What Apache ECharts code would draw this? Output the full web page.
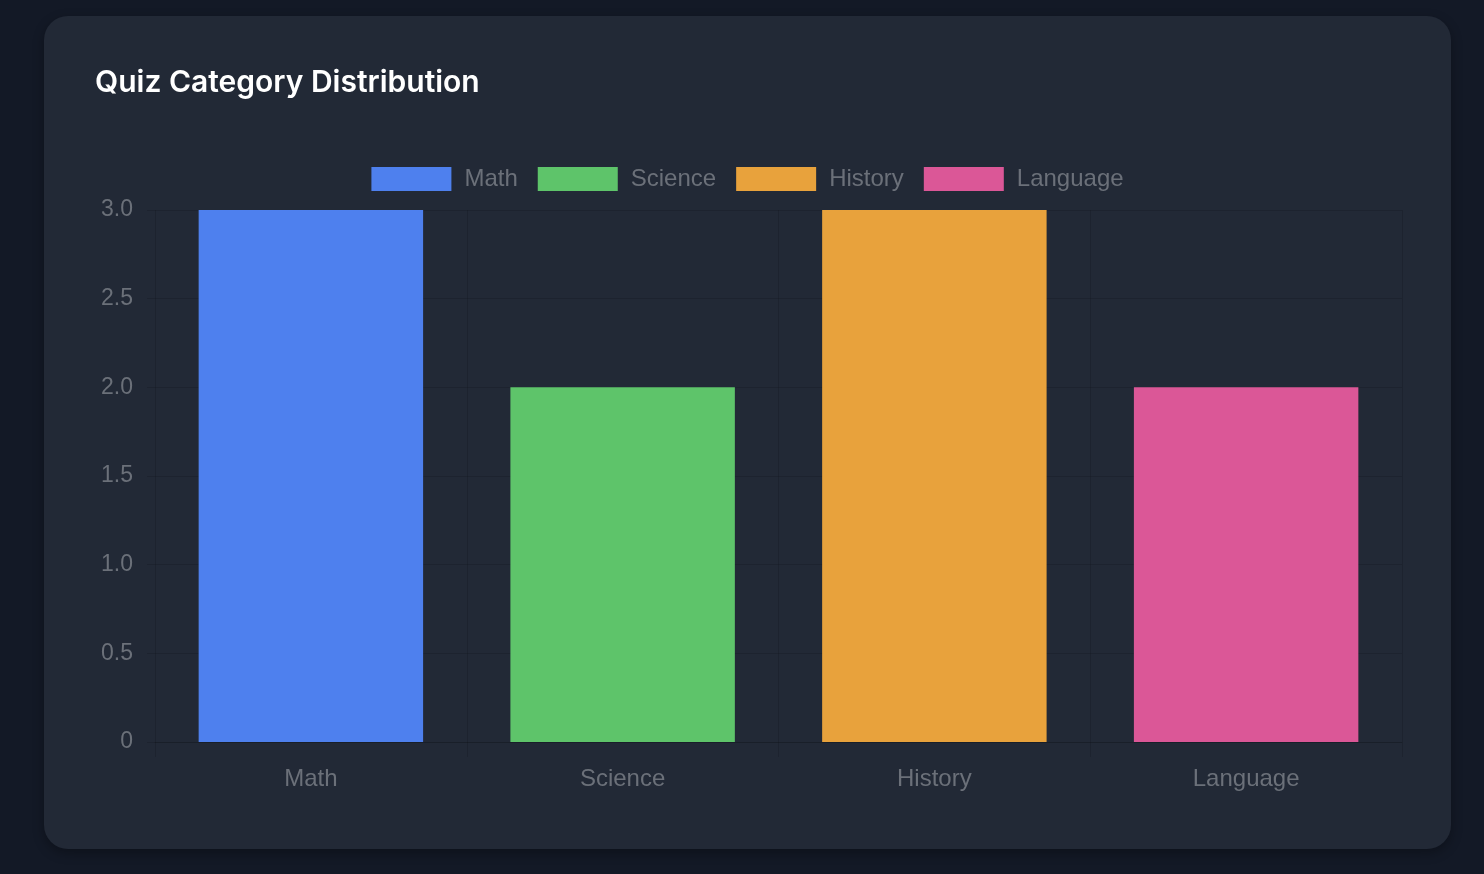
<!DOCTYPE html>
<html>
<head>
<meta charset="utf-8">
<script src="https://cdn.jsdelivr.net/npm/echarts@6/dist/echarts.min.js"></script>
<style>
  html, body { margin: 0; padding: 0; width: 1484px; height: 874px; background: #131926; overflow: hidden; }
  #card { position: absolute; left: 44px; top: 16px; width: 1407px; height: 833px; border-radius: 24px; background: #222936; box-shadow: 0 4px 12px rgba(0,0,0,0.3); overflow: hidden; }
  #chart { width: 1407px; height: 833px; }
</style>
</head>
<body>
<div id="card"><div id="chart"></div></div>
<script>
const categories = ['Math', 'Science', 'History', 'Language'];
const values = [3, 2, 3, 2];
const yTicks = [0, 0.5, 1, 1.5, 2, 2.5, 3];

const colors = ['#4e80ee', '#5ec46a', '#e8a23c', '#db5797'];
const labelColor = '#6b7079';
const gridColor = 'rgba(0,0,0,0.13)';
const font = '"Liberation Sans", Arial, sans-serif';

const series = categories.map((name, i) => ({
  name: name,
  type: 'bar',
  stack: 'all',
  barWidth: '72%',
  itemStyle: { color: colors[i] },
  data: categories.map((c, j) => (j === i ? values[i] : '-'))
}));

const chart = echarts.init(document.getElementById('chart'), null, { renderer: 'canvas' });
chart.setOption({
  animation: false,
  backgroundColor: 'transparent',
  title: {
    text: 'Quiz Category Distribution',
    left: 46,
    top: 47,
    textStyle: { color: '#ffffff', fontSize: 30, fontWeight: 600, fontFamily: 'Inter, "Noto Sans", sans-serif' }
  },
  legend: {
    data: categories,
    top: 146,
    left: 'center',
    itemWidth: 80,
    itemHeight: 24,
    itemGap: 20,
    icon: 'rect',
    textStyle: { color: labelColor, fontSize: 24, fontFamily: font, padding: [0, 0, 0, 8] }
  },
  grid: { left: 111, right: 49, top: 194, bottom: 107, containLabel: false },
  xAxis: {
    type: 'category',
    data: categories,
    boundaryGap: true,
    axisLine: { show: true, lineStyle: { color: gridColor, width: 1 } },
    axisTick: { show: true, length: 15, lineStyle: { color: gridColor } },
    splitLine: { show: true, lineStyle: { color: gridColor } },
    axisLabel: { color: labelColor, fontSize: 24, fontFamily: font, margin: 25 }
  },
  yAxis: {
    type: 'value',
    min: yTicks[0],
    max: yTicks[yTicks.length - 1],
    interval: yTicks[1] - yTicks[0],
    axisLine: { show: false },
    axisTick: { show: true, length: 8, lineStyle: { color: gridColor } },
    splitLine: { show: true, lineStyle: { color: gridColor } },
    axisLabel: {
      color: labelColor, fontSize: 23, fontFamily: font, margin: 22,
      padding: [3, 0, 0, 0],
      formatter: v => (v === 0 ? '0' : v.toFixed(1))
    }
  },
  series: series
});
</script>
</body>
</html>
